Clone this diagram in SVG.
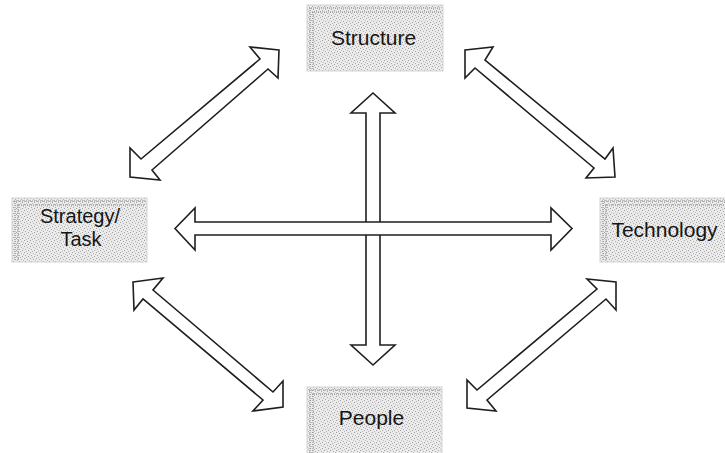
<svg xmlns="http://www.w3.org/2000/svg" width="725" height="453" viewBox="0 0 725 453">
<defs>
<pattern id="stipple" width="6" height="6" patternUnits="userSpaceOnUse">
<rect width="6" height="6" fill="#ebebeb"/>
<rect x="0" y="0" width="1" height="1" fill="#a0a0a0"/>
<rect x="3" y="1" width="1" height="1" fill="#b0b0b0"/>
<rect x="1" y="3" width="1" height="1" fill="#a8a8a8"/>
<rect x="4" y="4" width="1" height="1" fill="#a0a0a0"/>
<rect x="5" y="2" width="1" height="1" fill="#bcbcbc"/>
<rect x="2" y="5" width="1" height="1" fill="#b8b8b8"/>
</pattern>
</defs>
<style>
.box{fill:url(#stipple);stroke:#d4d4d4;stroke-width:1}
.bevel{fill:none;stroke:#8a8a8a;stroke-width:1;stroke-dasharray:1 1}
.lbl{font-family:"Liberation Sans",Arial,sans-serif;font-size:21px;fill:#151515;text-anchor:middle}
.sm{font-size:20px}
.arr{fill:#ffffff;stroke:#1e1e1e;stroke-width:1.6;stroke-linejoin:miter}
</style>
<rect width="725" height="453" fill="#ffffff"/>

<g id="connectors">
<polygon class="arr" points="279,50 250,47 260,59 141,159 130,148 130,177 160,180 152,170 268,69 278,78"/>
<polygon class="arr" points="465,50 493,47 485,60 605,159 613,148 615,177 586,178 594,168 475,68 465,78"/>
<polygon class="arr" points="133,282 163,278 153,290 273,392 283,381 283,407 253,411 263,400 143,299 134,310"/>
<polygon class="arr" points="616,282 616,310 606,299 487,400 496,411 467,408 467,380 477,390 597,289 587,279"/>
<polygon class="arr" points="373,93 395,113 380,113 380,345 395,345 373,365 351,345 366,345 366,113 351,113"/>
<polygon class="arr" points="175,228.5 195,208 195,222 551,222 551,208 572,228.5 551,250 551,235 195,235 195,250"/>
</g>

<g id="structure">
<rect class="box" x="307" y="5" width="136" height="66"/>
<path class="bevel" d="M309,8 H441 M312,12 H441 M310,8 V69 M313,12 V69"/>
<text class="lbl" x="373.5" y="45">Structure</text>
</g>

<g id="strategy">
<rect class="box" x="12" y="198" width="135" height="64"/>
<path class="bevel" d="M14,201 H145 M17,205 H145 M15,201 V260 M18,205 V260"/>
<text class="lbl sm" x="80" y="223">Strategy/</text>
<text class="lbl sm" x="81" y="246">Task</text>
</g>

<g id="technology">
<rect class="box" x="600" y="198" width="126" height="64"/>
<path class="bevel" d="M602,201 H725 M605,205 H725 M603,201 V260 M606,205 V260"/>
<text class="lbl" x="664.5" y="237">Technology</text>
</g>

<g id="people">
<rect class="box" x="307" y="387" width="135" height="67"/>
<path class="bevel" d="M309,390 H440 M312,394 H440 M310,390 V453 M313,394 V453"/>
<text class="lbl" x="371.5" y="425">People</text>
</g>
</svg>
